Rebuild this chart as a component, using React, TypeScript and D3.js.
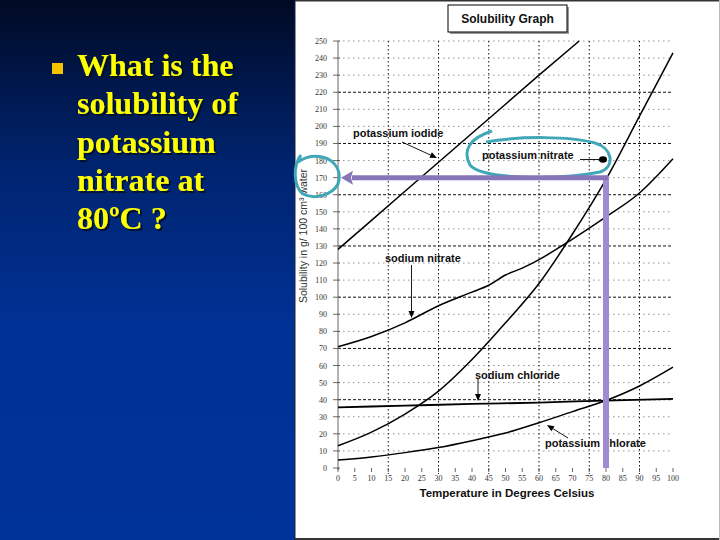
import React from "react";
import * as d3 from "d3";

const temps = [0, 5, 10, 15, 20, 25, 30, 35, 40, 45, 50, 55, 60, 65, 70, 75, 80, 85, 90, 95, 100];
const yTicks = d3.range(0, 251, 10);
const majorY = [40, 70, 100, 130, 160, 190, 220];
const vGrid = [15, 30, 45, 60, 75, 90];

const kiT = [0, 10, 20, 30, 40, 50, 60, 72];
const kiS = [128, 145, 162, 179, 196, 213, 230, 250];
const kno3T = [0, 10, 20, 30, 40, 50, 60, 70, 80, 90, 100];
const kno3S = [13, 21, 31.6, 45, 63.5, 85, 108, 137, 169, 206, 243];
const nano3T = [0, 10, 20, 30, 40, 45, 50, 55, 60, 70, 80, 90, 100];
const nano3S = [71, 77, 85, 95, 103, 107, 113, 117, 122, 134, 147, 161, 181];
const naclT = [0, 20, 40, 60, 80, 100];
const naclS = [35.5, 36.5, 37.5, 38.3, 39.5, 40.5];
const kclo3T = [0, 10, 20, 30, 40, 50, 60, 70, 80, 90, 100];
const kclo3S = [4.7, 6.5, 9, 12, 16, 20.5, 26.5, 33, 39.5, 48, 59];

const questionLines = ["What is the", "solubility of", "potassium", "nitrate at", "80ºC ?"];

const x = d3.scaleLinear().domain([0, 100]).range([338, 673]);
const y = d3.scaleLinear().domain([0, 250]).range([468, 41]);

function curve(ts: number[], ss: number[], linear = false) {
  const pts = ts.map((t, i) => [t, ss[i]] as [number, number]);
  return d3
    .line<[number, number]>()
    .x((d) => x(d[0]))
    .y((d) => y(d[1]))
    .curve(linear ? d3.curveLinear : d3.curveMonotoneX)(pts) as string;
}

const SANS = "'Liberation Sans', Arial, sans-serif";
const SERIF = "'Liberation Serif', 'Times New Roman', serif";

function Arrow({ x1, y1, x2, y2 }: { x1: number; y1: number; x2: number; y2: number }) {
  const a = Math.atan2(y2 - y1, x2 - x1);
  const L = 7, W = 3;
  const bx = x2 - L * Math.cos(a), by = y2 - L * Math.sin(a);
  const p1 = [bx + W * Math.sin(a), by - W * Math.cos(a)];
  const p2 = [bx - W * Math.sin(a), by + W * Math.cos(a)];
  return (
    <g>
      <line x1={x1} y1={y1} x2={bx} y2={by} stroke="#000" strokeWidth={0.9} />
      <path d={`M${x2},${y2}L${p1[0]},${p1[1]}L${p2[0]},${p2[1]}Z`} fill="#000" />
    </g>
  );
}

export default function App() {
  const y170 = y(170);
  const x80 = x(80);
  return (
    <svg width={720} height={540} style={{ position: "absolute", left: 0, top: 0 }}>
      <defs>
        <linearGradient id="bg" x1="0" y1="0" x2="0" y2="1">
          <stop offset="0" stopColor="#000a24" />
          <stop offset="0.3" stopColor="#00236e" />
          <stop offset="0.6" stopColor="#003194" />
          <stop offset="1" stopColor="#003399" />
        </linearGradient>
        <filter id="shadow" x="-10%" y="-20%" width="130%" height="160%">
          <feDropShadow dx={2} dy={2} stdDeviation={0.4} floodColor="#000a20" floodOpacity={0.85} />
        </filter>
      </defs>
      <rect x={0} y={0} width={296} height={540} fill="url(#bg)" />
      <rect x={295} y={0} width={425} height={540} fill="#fff" />
      <line x1={295} y1={0.75} x2={720} y2={0.75} stroke="#333" strokeWidth={1.5} />
      <line x1={295} y1={539} x2={720} y2={539} stroke="#333" strokeWidth={2} />
      <line x1={295} y1={0} x2={295} y2={540} stroke="#1a2340" strokeWidth={1} />
      <line x1={719.5} y1={0} x2={719.5} y2={540} stroke="#bbb" strokeWidth={1} />

      {/* question */}
      <rect x={52} y={63} width={11} height={11} fill="#f5c400" />
      <g fontFamily={SERIF} fontWeight="bold" fontSize={32} fill="#ffff00" filter="url(#shadow)">
        {questionLines.map((t, i) => (
          <text key={i} x={77} y={76 + i * 38.3}>{t}</text>
        ))}
      </g>

      {/* title box */}
      <rect x={450} y={7} width={119} height={27} fill="#999" />
      <rect x={448} y={5} width={119} height={27} fill="#fff" stroke="#000" strokeWidth={1} />
      <text x={507.5} y={23} textAnchor="middle" fontFamily={SANS} fontWeight="bold" fontSize={12} fill="#111">
        Solubility Graph
      </text>

      {/* horizontal grid */}
      {yTicks.filter((v) => v > 0).map((v) => {
        const major = majorY.includes(v);
        return (
          <line key={v} x1={x(0)} x2={x(100)} y1={y(v)} y2={y(v)}
            stroke={major ? "#111" : "#777"} strokeWidth={major ? 1 : 0.8}
            strokeDasharray={major ? "3,2" : "1.5,3.5"} />
        );
      })}
      {/* vertical grid */}
      {vGrid.map((t) => (
        <line key={t} x1={x(t)} x2={x(t)} y1={y(250)} y2={y(0) + 6}
          stroke="#111" strokeWidth={1} strokeDasharray="1.5,2.5" />
      ))}
      {/* y axis */}
      <line x1={x(0)} x2={x(0)} y1={y(250)} y2={y(0) + 2} stroke="#999" strokeWidth={1.5} />
      {yTicks.map((v) => (
        <g key={v}>
          <line x1={x(0) - 5} x2={x(0) + 2} y1={y(v)} y2={y(v)} stroke="#444" strokeWidth={0.8} />
          <text x={327} y={y(v) + 3} textAnchor="end" fontFamily={SERIF} fontSize={8} fill="#333">{v}</text>
        </g>
      ))}
      {temps.map((t) => (
        <g key={t}>
          <line x1={x(t)} x2={x(t)} y1={y(0)} y2={y(0) + 4} stroke="#444" strokeWidth={0.8} />
          <text x={x(t)} y={y(0) + 13} textAnchor="middle" fontFamily={SERIF} fontSize={8} fill="#333">{t}</text>
        </g>
      ))}
      <text x={507} y={497} textAnchor="middle" fontFamily={SANS} fontWeight="bold" fontSize={11.5} fill="#111">
        Temperature in Degrees Celsius
      </text>
      <text transform={`translate(307,236) rotate(-90)`} textAnchor="middle" fontFamily={SANS} fontSize={10.5} fill="#333">
        Solubility in g/ 100 cm³ water
      </text>

      {/* curves */}
      <g fill="none" stroke="#000" strokeWidth={1.5}>
        <path d={curve(kiT, kiS, true)} />
        <path d={curve(kno3T, kno3S)} />
        <path d={curve(nano3T, nano3S)} />
        <path d={curve(naclT, naclS)} strokeWidth={1.8} />
        <path d={curve(kclo3T, kclo3S)} />
      </g>

      {/* labels */}
      <g fontFamily={SANS} fontWeight="bold" fontSize={11} fill="#111">
        <text x={353} y={137}>potassium iodide</text>
        <text x={482} y={159}>potassium nitrate</text>
        <text x={385} y={262}>sodium nitrate</text>
        <text x={475} y={379}>sodium chloride</text>
        <text x={545} y={447}>potassium chlorate</text>
      </g>
      <Arrow x1={402} y1={142} x2={437} y2={158} />
      <Arrow x1={411.5} y1={265} x2={411.5} y2={318} />
      <Arrow x1={478} y1={379} x2={478} y2={401} />
      <Arrow x1={568} y1={438} x2={547} y2={425} />
      <line x1={580} y1={159.5} x2={601} y2={159.5} stroke="#000" strokeWidth={0.9} />
      <ellipse cx={603} cy={159.5} rx={4} ry={3.2} fill="#000" />

      {/* cyan circles */}
      <path d="M492,131 C470,138 462,150 470,165 C482,180 560,180 600,172 C616,166 612,148 595,143 C570,136 520,136 486,142"
        fill="none" stroke="#3fa7b8" strokeWidth={3} />
      <path d="M301,155 C293,165 293,186 303,194 C315,200 332,195 338,184 C342,172 336,160 322,157 C312,155 304,158 298,162"
        fill="none" stroke="#3fa7b8" strokeWidth={3} />

      {/* purple arrow */}
      <line x1={x80} x2={x80} y1={y170 - 2} y2={y(0)} stroke="#a08bd2" strokeWidth={6} />
      <line x1={352} x2={x80 + 2} y1={y170} y2={y170} stroke="#8874b8" strokeWidth={5} />
      <path d={`M${x(0) + 3},${y170} L${x(0) + 15},${y170 - 7} L${x(0) + 13},${y170} L${x(0) + 15},${y170 + 7} Z`} fill="#8874b8" />
    </svg>
  );
}
